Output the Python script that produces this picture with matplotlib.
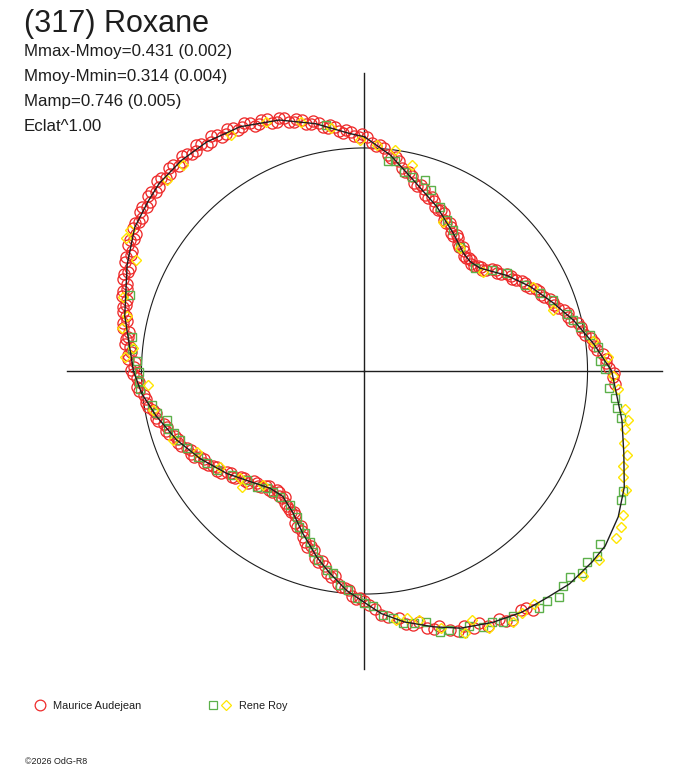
import numpy as np
import matplotlib
matplotlib.use("Agg")
import matplotlib.pyplot as plt

# ======================
# DATA (phase 0..1, flux relative to mean, circle = 1)
# ======================
fit_phase = [0.000, 0.019, 0.040, 0.066, 0.091, 0.111, 0.122, 0.134, 0.156, 0.175,
             0.195, 0.212, 0.231, 0.250, 0.280, 0.299, 0.317, 0.333, 0.350, 0.361,
             0.378, 0.392, 0.408, 0.425, 0.443, 0.458, 0.475, 0.489, 0.500, 0.513,
             0.528, 0.540, 0.558, 0.574, 0.592, 0.608, 0.628, 0.648, 0.672, 0.694,
             0.716, 0.734, 0.750, 0.786, 0.817, 0.839, 0.856, 0.868, 0.886, 0.904,
             0.925, 0.948, 0.969, 0.990, 1.000]
fit_flux = [1.050, 0.975, 0.883, 0.805, 0.735, 0.690, 0.682, 0.693, 0.769, 0.834,
            0.900, 0.964, 1.034, 1.108, 1.175, 1.220, 1.276, 1.312, 1.334, 1.332,
            1.325, 1.305, 1.291, 1.265, 1.231, 1.188, 1.139, 1.090, 1.038, 0.987,
            0.915, 0.861, 0.778, 0.713, 0.671, 0.675, 0.714, 0.769, 0.835, 0.897,
            0.955, 1.004, 1.036, 1.103, 1.166, 1.215, 1.233, 1.247, 1.251, 1.247,
            1.229, 1.188, 1.130, 1.067, 1.050]

# Maurice Audejean, first session
red_phase = [0.402, 0.408, 0.415, 0.421, 0.428, 0.436, 0.441, 0.449, 0.455, 0.462,
             0.470, 0.478, 0.485, 0.493,
             0.500, 0.506, 0.511, 0.517, 0.523, 0.529, 0.535, 0.541, 0.547, 0.553,
             0.559, 0.565, 0.571, 0.577, 0.583, 0.589, 0.595, 0.601, 0.607, 0.613,
             0.619, 0.625, 0.631, 0.637, 0.643, 0.649, 0.655, 0.661, 0.667, 0.673,
             0.679, 0.685, 0.691, 0.697, 0.703, 0.709, 0.715, 0.721, 0.727, 0.733,
             0.739, 0.745,
             0.751, 0.756, 0.761, 0.766, 0.771, 0.776, 0.781, 0.786, 0.791, 0.796,
             0.801, 0.806, 0.811, 0.816, 0.821, 0.826, 0.831, 0.836, 0.841, 0.846,
             0.851, 0.856, 0.861, 0.866, 0.871, 0.876, 0.881, 0.886, 0.891, 0.896,
             0.901, 0.906, 0.911, 0.916, 0.921, 0.926, 0.931, 0.936, 0.941, 0.946,
             0.951, 0.956, 0.961, 0.966, 0.971, 0.976, 0.981, 0.986, 0.991, 0.996,
             0.002, 0.008, 0.014, 0.020, 0.026, 0.032, 0.038, 0.044, 0.050, 0.056,
             0.062, 0.068, 0.074, 0.080, 0.086, 0.092, 0.098, 0.104, 0.110, 0.116,
             0.122, 0.128, 0.134, 0.140, 0.146, 0.152, 0.158, 0.164, 0.170, 0.176,
             0.182, 0.188, 0.194, 0.200, 0.206, 0.212, 0.218, 0.224, 0.230, 0.236,
             0.242, 0.248, 0.254, 0.258]
red_flux = [1.310, 1.280, 1.295, 1.262, 1.270, 1.250, 1.228, 1.222, 1.190, 1.185,
            1.160, 1.120, 1.110, 1.068,
            1.030, 1.022, 0.985, 0.975, 0.930, 0.920, 0.872, 0.865, 0.820, 0.812,
            0.768, 0.760, 0.718, 0.712, 0.700, 0.668, 0.680, 0.665, 0.684, 0.680,
            0.705, 0.700, 0.728, 0.732, 0.762, 0.765, 0.798, 0.800, 0.828, 0.832,
            0.862, 0.866, 0.895, 0.898, 0.928, 0.930, 0.960, 0.962, 0.992, 0.995,
            1.022, 1.020,
            1.045, 1.030, 1.062, 1.058, 1.080, 1.070, 1.105, 1.098, 1.120, 1.110,
            1.140, 1.135, 1.162, 1.150, 1.185, 1.175, 1.205, 1.195, 1.225, 1.212,
            1.238, 1.225, 1.250, 1.238, 1.258, 1.242, 1.262, 1.245, 1.258, 1.240,
            1.255, 1.238, 1.250, 1.230, 1.240, 1.222, 1.225, 1.205, 1.212, 1.185,
            1.188, 1.160, 1.160, 1.132, 1.130, 1.102, 1.100, 1.072, 1.072, 1.050,
            1.050, 1.012, 1.005, 0.962, 0.955, 0.910, 0.900, 0.862, 0.860, 0.828,
            0.825, 0.792, 0.790, 0.758, 0.755, 0.725, 0.728, 0.700, 0.698, 0.680,
            0.690, 0.680, 0.700, 0.708, 0.742, 0.750, 0.782, 0.790, 0.822, 0.830,
            0.862, 0.870, 0.902, 0.912, 0.948, 0.955, 0.992, 1.000, 1.038, 1.048,
            1.085, 1.095, 1.115, 1.125]

# Maurice Audejean, second session
red2_phase = [0.405, 0.418, 0.432, 0.445, 0.458, 0.466, 0.474, 0.489, 0.497,
              0.503, 0.509, 0.514, 0.520, 0.526, 0.532, 0.538, 0.544, 0.550, 0.556,
              0.562, 0.568, 0.574, 0.580, 0.586, 0.592, 0.598, 0.604, 0.610, 0.616,
              0.622, 0.628, 0.634, 0.640, 0.646, 0.652, 0.658, 0.664, 0.670, 0.676,
              0.682, 0.688, 0.694, 0.700, 0.706, 0.712, 0.718, 0.724, 0.730, 0.736,
              0.742, 0.748,
              0.753, 0.758, 0.763, 0.768, 0.773, 0.778, 0.783, 0.788, 0.793, 0.798,
              0.803, 0.808, 0.813, 0.818, 0.823, 0.828, 0.833, 0.838, 0.843, 0.848,
              0.853, 0.858, 0.863, 0.868, 0.873, 0.878, 0.883, 0.888, 0.893, 0.898,
              0.903, 0.908, 0.913, 0.918, 0.923, 0.928, 0.933, 0.938, 0.943, 0.948,
              0.953, 0.958, 0.963, 0.968, 0.973, 0.978, 0.983, 0.988, 0.993, 0.998,
              0.005, 0.011, 0.017, 0.023, 0.029, 0.035, 0.041, 0.047, 0.053, 0.059,
              0.065, 0.071, 0.077, 0.083, 0.089, 0.095, 0.101, 0.107, 0.113, 0.119,
              0.125, 0.131, 0.137, 0.143, 0.149, 0.155, 0.161, 0.167, 0.173, 0.179,
              0.185, 0.191, 0.197, 0.203, 0.209, 0.215, 0.221, 0.227, 0.233, 0.239,
              0.245, 0.251]
red2_flux = [1.285, 1.290, 1.240, 1.240, 1.200, 1.150, 1.150, 1.098, 1.048,
             1.018, 1.012, 0.975, 0.962, 0.935, 0.890, 0.880, 0.835, 0.828, 0.795,
             0.752, 0.748, 0.705, 0.706, 0.692, 0.678, 0.662, 0.682, 0.670, 0.698,
             0.694, 0.722, 0.722, 0.755, 0.755, 0.788, 0.790, 0.820, 0.822, 0.855,
             0.855, 0.888, 0.890, 0.920, 0.922, 0.952, 0.952, 0.985, 0.986, 1.015,
             1.012, 1.040,
             1.035, 1.060, 1.052, 1.080, 1.072, 1.098, 1.090, 1.115, 1.108, 1.138,
             1.128, 1.158, 1.150, 1.178, 1.170, 1.200, 1.192, 1.222, 1.210, 1.235,
             1.222, 1.248, 1.232, 1.260, 1.240, 1.262, 1.238, 1.265, 1.242, 1.262,
             1.235, 1.258, 1.228, 1.248, 1.222, 1.235, 1.205, 1.218, 1.188, 1.198,
             1.165, 1.172, 1.138, 1.145, 1.108, 1.115, 1.080, 1.085, 1.055, 1.062,
             1.022, 1.015, 0.975, 0.968, 0.925, 0.915, 0.872, 0.870, 0.835, 0.835,
             0.800, 0.800, 0.765, 0.765, 0.732, 0.735, 0.705, 0.708, 0.682, 0.692,
             0.676, 0.692, 0.695, 0.732, 0.738, 0.772, 0.780, 0.812, 0.820, 0.852,
             0.860, 0.892, 0.900, 0.935, 0.945, 0.980, 0.990, 1.025, 1.035, 1.072,
             1.082, 1.118]

# Rene Roy
green_phase = [0.018, 0.023, 0.031, 0.038, 0.049, 0.056, 0.069, 0.080, 0.089, 0.104,
               0.131, 0.143, 0.154, 0.172, 0.183, 0.193, 0.206, 0.212, 0.218, 0.225,
               0.234, 0.243, 0.249, 0.261, 0.267, 0.273, 0.279, 0.319, 0.324, 0.351,
               0.357, 0.363, 0.369, 0.375, 0.381, 0.387, 0.393, 0.399, 0.413, 0.420,
               0.425, 0.431, 0.438, 0.443, 0.450, 0.455, 0.462, 0.469, 0.476, 0.482,
               0.488, 0.494, 0.500, 0.505, 0.512, 0.518, 0.525, 0.530, 0.538, 0.544,
               0.549, 0.556, 0.563, 0.569, 0.581, 0.594, 0.603, 0.611, 0.619, 0.631,
               0.644, 0.656, 0.666, 0.674, 0.685, 0.693, 0.700, 0.704, 0.711, 0.718,
               0.725, 0.737, 0.742, 0.749, 0.757, 0.765, 0.773, 0.800, 0.975]
green_flux = [0.948, 0.951, 0.909, 0.896, 0.899, 0.865, 0.810, 0.772, 0.747, 0.702,
              0.677, 0.730, 0.776, 0.815, 0.861, 0.903, 0.944, 0.962, 0.986, 1.024,
              1.053, 1.057, 1.078, 1.099, 1.130, 1.144, 1.170, 1.276, 1.287, 1.310,
              1.330, 1.315, 1.331, 1.305, 1.312, 1.335, 1.317, 1.317, 1.285, 1.286,
              1.262, 1.265, 1.238, 1.254, 1.222, 1.218, 1.158, 1.152, 1.143, 1.115,
              1.097, 1.055, 1.040, 1.018, 0.985, 0.966, 0.917, 0.908, 0.873, 0.844,
              0.805, 0.774, 0.757, 0.721, 0.688, 0.680, 0.680, 0.683, 0.709, 0.719,
              0.755, 0.797, 0.818, 0.840, 0.868, 0.883, 0.898, 0.920, 0.913, 0.949,
              0.965, 1.010, 1.012, 1.011, 1.021, 1.048, 1.054, 1.105, 1.117]

yellow_phase = [0.241, 0.253, 0.261, 0.273, 0.279, 0.285, 0.293, 0.299, 0.306, 0.312,
                0.318, 0.331, 0.337, 0.343, 0.358, 0.370, 0.400, 0.408, 0.415, 0.428,
                0.435, 0.442, 0.454, 0.466, 0.473, 0.480, 0.740, 0.721, 0.695, 0.678,
                0.657, 0.629, 0.637, 0.616, 0.036, 0.009, 0.077, 0.105, 0.139, 0.176,
                0.200, 0.229, 0.836, 0.831, 0.797, 0.778, 0.786, 0.759, 0.766, 0.940,
                0.978, 0.918, 0.872, 0.885, 0.822, 0.997, 0.022, 0.960]
yellow_flux = [1.092, 1.114, 1.139, 1.180, 1.202, 1.198, 1.208, 1.236, 1.234, 1.253,
               1.288, 1.327, 1.348, 1.354, 1.351, 1.344, 1.293, 1.293, 1.308, 1.279,
               1.218, 1.258, 1.201, 1.142, 1.124, 1.126, 0.973, 0.964, 0.913, 0.834,
               0.778, 0.757, 0.736, 0.684, 0.948, 1.015, 0.755, 0.698, 0.692, 0.844,
               0.888, 1.034, 1.227, 1.224, 1.133, 1.104, 1.092, 1.076, 1.043, 1.199,
               1.101, 1.217, 1.232, 1.230, 1.138, 1.036, 1.000, 1.153]

title = "(317) Roxane"
info_lines = ["Mmax-Mmoy=0.431 (0.002)", "Mmoy-Mmin=0.314 (0.004)",
              "Mamp=0.746 (0.005)", "Eclat^1.00"]
observers = ["Maurice Audejean", "Rene Roy"]

RMAX = 1.336
INK = "#1e1e1e"
RED = "#ee2b2b"
GREEN = "#5cb04a"
YELLOW = "#ffe600"

plt.rcParams['font.family'] = ['Liberation Sans', 'DejaVu Sans']

W, H = 688, 768
fig = plt.figure(figsize=(W / 100, H / 100), dpi=100)

# overlay in pixel units for texts and legend
bg = fig.add_axes([0, 0, 1, 1])
bg.set_xlim(0, W)
bg.set_ylim(H, 0)
bg.axis('off')

# polar diagram
cx, cy, rad = 364.5, 371, 298
ax = fig.add_axes([(cx - rad) / W, (H - cy - rad) / H, 2 * rad / W, 2 * rad / H],
                  projection='polar')
ax.set_theta_zero_location('N')
ax.set_theta_direction(-1)
ax.set_ylim(0, RMAX)
ax.axis('off')

for t in [0, np.pi / 2, np.pi, 3 * np.pi / 2]:
    ax.plot([t, t], [0, RMAX], color=INK, lw=1.0, clip_on=False)

th = np.linspace(0, 2 * np.pi, 400)
ax.plot(th, np.ones_like(th), color=INK, lw=0.8)

red_style = dict(ls='none', marker='o', mfc='none', mec=RED, ms=8, mew=0.95, clip_on=False)
ax.plot(2 * np.pi * np.array(red_phase), red_flux, **red_style)
ax.plot(2 * np.pi * np.array(red2_phase), red2_flux, **red_style)
ax.plot(2 * np.pi * np.array(green_phase), green_flux, 's', mfc='none', mec=GREEN,
        ms=5.6, mew=1.0, clip_on=False)
ax.plot(2 * np.pi * np.array(yellow_phase), yellow_flux, 'D', mfc='none', mec=YELLOW,
        ms=5.5, mew=1.0, clip_on=False)
ax.plot(2 * np.pi * np.array(fit_phase), fit_flux, color=INK, lw=1.0, clip_on=False)

# texts
bg.text(24, 32, title, fontsize=22, va='baseline', color=INK)
for i, s in enumerate(info_lines):
    bg.text(24, 56 + 25 * i, s, fontsize=12.2, va='baseline', color=INK)

bg.plot(40, 705, 'o', mfc='none', mec=RED, ms=7.7, mew=0.9)
bg.text(53, 709, observers[0], fontsize=7.9, va='baseline', color=INK)
bg.plot(212.5, 705, 's', mfc='none', mec=GREEN, ms=5.5, mew=0.9)
bg.plot(225.5, 705, 'D', mfc='none', mec=YELLOW, ms=5.5, mew=0.9)
bg.text(239, 709, observers[1], fontsize=7.8, va='baseline', color=INK)

bg.text(25, 762, "©2026 OdG-R8", fontsize=6.4, va='center', color=INK)

fig.savefig("out.png", dpi=100)
